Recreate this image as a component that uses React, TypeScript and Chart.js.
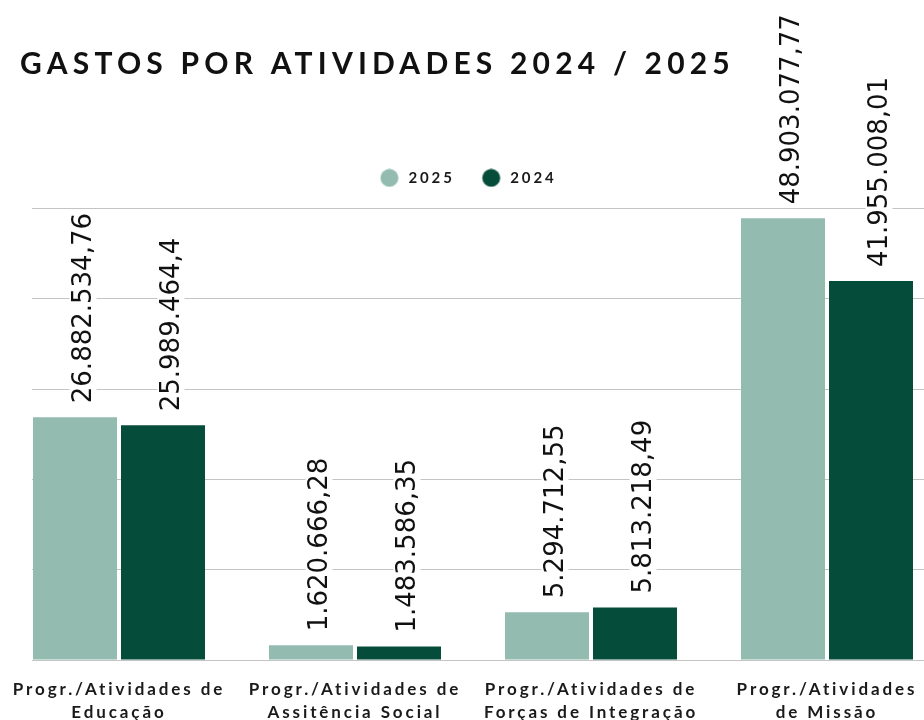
import React, { useEffect, useRef } from "react";
import { Chart, registerables } from "chart.js";

Chart.register(...registerables);

// ---- data ----
const TITLE = "GASTOS POR ATIVIDADES 2024 / 2025";
const categoryLabels: string[][] = [
  ["Progr./Atividades de", "Educação"],
  ["Progr./Atividades de", "Assitência Social"],
  ["Progr./Atividades de", "Forças de Integração"],
  ["Progr./Atividades", "de Missão"],
];
const seriesNames = ["2025", "2024"];
const values2025 = [26882534.76, 1620666.28, 5294712.55, 48903077.77];
const values2024 = [25989464.4, 1483586.35, 5813218.49, 41955008.01];
const yGridValues = [0, 10000000, 20000000, 30000000, 40000000, 50000000];

const COLOR_2025 = "#94bbb0";
const COLOR_2024 = "#064c3a";

function fmtBR(v: number): string {
  const [i, d] = String(v).split(".");
  const int = i.replace(/\B(?=(\d{3})+(?!\d))/g, ".");
  return d ? int + "," + d : int;
}

function legendDot(color: string): HTMLCanvasElement {
  const c = document.createElement("canvas");
  c.width = 31;
  c.height = 19;
  const g = c.getContext("2d")!;
  g.fillStyle = color;
  g.beginPath();
  g.arc(15.5 + 5.25, 9.5, 9, 0, Math.PI * 2);
  g.fill();
  return c;
}

const spacingPlugin = {
  id: "spacing",
  beforeLayout(chart: any) {
    chart.ctx.letterSpacing = "2.9px";
  },
  beforeDraw(chart: any) {
    chart.ctx.letterSpacing = "2.9px";
  },
};

const titlePlugin = {
  id: "customTitle",
  afterDraw(chart: any) {
    const ctx = chart.ctx;
    ctx.save();
    ctx.letterSpacing = "5.2px";
    ctx.font = "bold 30px Lato";
    ctx.fillStyle = "#111111";
    ctx.textAlign = "left";
    ctx.textBaseline = "alphabetic";
    ctx.fillText(TITLE, 20, 74);
    ctx.restore();
  },
};

const valueLabelPlugin = {
  id: "valueLabels",
  afterDatasetsDraw(chart: any) {
    const ctx = chart.ctx;
    chart.data.datasets.forEach((ds: any, di: number) => {
      const meta = chart.getDatasetMeta(di);
      meta.data.forEach((bar: any, i: number) => {
        const text = fmtBR(ds.data[i].y);
        ctx.save();
        ctx.letterSpacing = "0px";
        ctx.font = "26px 'DejaVu Sans'";
        ctx.translate(bar.x + 15.5, bar.y - 14);
        ctx.rotate(-Math.PI / 2);
        const w = ctx.measureText(text).width;
        ctx.fillStyle = "#ffffff";
        ctx.fillRect(-2, -21, w + 4, 27);
        ctx.fillStyle = "#111111";
        ctx.textAlign = "left";
        ctx.textBaseline = "alphabetic";
        ctx.fillText(text, 0, 0);
        ctx.restore();
      });
    });
  },
};

export default function App() {
  const ref = useRef<HTMLCanvasElement | null>(null);

  useEffect(() => {
    if (!ref.current) return;
    const toPoints = (arr: number[]) => arr.map((v, i) => ({ x: i, y: v }));
    const unit = 236;
    const xMin = -87 / unit;
    const xMax = xMin + 892 / unit;
    const chart = new Chart(ref.current, {
      type: "bar",
      data: {
        datasets: [
          {
            label: seriesNames[0],
            data: toPoints(values2025),
            backgroundColor: COLOR_2025,
            pointStyle: legendDot(COLOR_2025),
            categoryPercentage: 176 / 236,
            barPercentage: 84 / 88,
          },
          {
            label: seriesNames[1],
            data: toPoints(values2024),
            backgroundColor: COLOR_2024,
            pointStyle: legendDot(COLOR_2024),
            categoryPercentage: 176 / 236,
            barPercentage: 84 / 88,
          },
        ],
      } as any,
      options: {
        responsive: false,
        animation: false,
        devicePixelRatio: 1,
        layout: { padding: { top: 156, left: 0, right: 0, bottom: 0 } },
        plugins: {
          tooltip: { enabled: false },
          title: { display: false },
          legend: {
            display: true,
            position: "top",
            labels: {
              usePointStyle: true,
              pointStyleWidth: 33.5,
              boxHeight: 13,
              padding: 14.4,
              color: "#1a1a1a",
              font: { family: "Lato", weight: "bold", size: 15 },
            },
          },
        },
        scales: {
          x: {
            type: "linear",
            bounds: "data",
            offset: false,
            min: xMin,
            max: xMax,
            grid: { display: false, offset: false },
            border: { display: false },
            afterBuildTicks: (s: any) => {
              s.ticks = categoryLabels.map((_, i) => ({ value: i }));
            },
            afterFit: (s: any) => {
              s.height = 60;
              s.paddingLeft = 0;
              s.paddingRight = 0;
            },
            ticks: {
              autoSkip: false,
              maxRotation: 0,
              minRotation: 0,
              padding: 10,
              color: "#1a1a1a",
              font: { family: "Lato", weight: "bold", size: 17, lineHeight: "23px" },
              callback: (v: any) => categoryLabels[v as number] ?? "",
            },
          },
          y: {
            type: "linear",
            bounds: "data",
            min: 0,
            max: 51444000,
            afterBuildTicks: (s: any) => {
              s.ticks = yGridValues.map((v) => ({ value: v }));
            },
            afterFit: (s: any) => {
              s.width = 32;
              s.paddingTop = 0;
              s.paddingBottom = 0;
            },
            grid: { color: "#c4c4c4", lineWidth: 1, drawTicks: false },
            border: { display: false },
            ticks: { display: false },
          },
        },
      } as any,
      plugins: [spacingPlugin, titlePlugin, valueLabelPlugin],
    });
    return () => chart.destroy();
  }, []);

  return (
    <div style={{ position: "absolute", left: 0, top: 0, width: 924, height: 720, overflow: "hidden", background: "#ffffff" }}>
      <canvas ref={ref} width={924} height={720} style={{ display: "block" }} />
    </div>
  );
}
